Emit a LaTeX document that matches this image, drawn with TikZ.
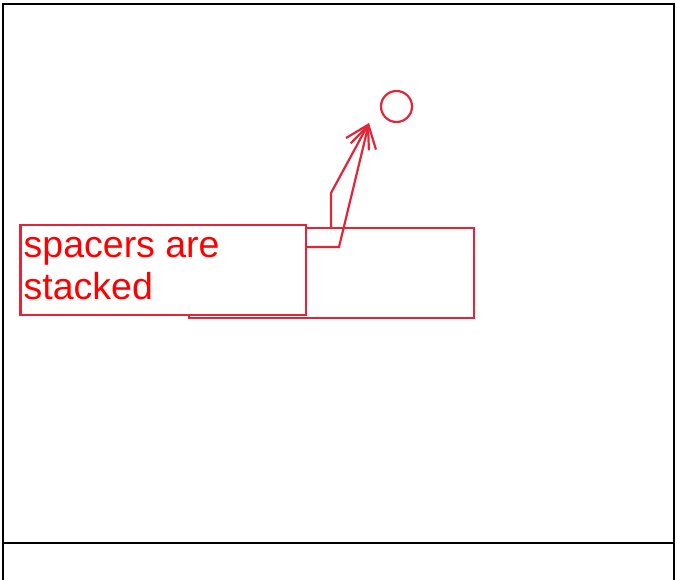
\documentclass[tikz,border=0pt]{standalone}
\usepackage{fontspec}
\setmainfont{Liberation Sans}
\usetikzlibrary{arrows.meta}
\definecolor{lred}{RGB}{226,38,56}
\definecolor{tred}{RGB}{255,0,0}
\begin{document}
\begin{tikzpicture}[x=1pt,y=1pt,
  redbox/.style={draw=lred, line width=2.2pt, rectangle, inner sep=0pt},
  conn/.style={draw=lred, line width=2.2pt, line join=miter,
    -{Straight Barb[length=22pt,width=26pt]}},
  frameline/.style={draw=black, line width=2pt}]
\useasboundingbox (0,0) rectangle (677,580);
% frame
\draw[frameline] (3,-10) -- (3,576) -- (674,576) -- (674,-10);
\draw[frameline] (3,37) -- (674,37);
% big box
\node[redbox, anchor=north west, minimum width=285pt, minimum height=90pt] (big) at (188,353) {};
% label box
\node[redbox, anchor=north west, fill=white, minimum width=285.5pt, minimum height=89.5pt] (lbl) at (19.3,355.7) {};
\node[anchor=base west, inner sep=0pt, text=tred, font=\fontsize{37.5}{42}\selectfont, align=left] (txt) at (23.5,322.3) {spacers are};
\node[anchor=base west, inner sep=0pt, text=tred, font=\fontsize{37.5}{42}\selectfont, align=left] (txt2) at (23.5,280) {stacked};
% circle
\node[draw=lred, line width=2.2pt, circle, minimum size=31pt, inner sep=0pt] (circ) at (396.5,473.5) {};
\coordinate (tip) at (369,457);
\coordinate (a1) at (lbl.east |- 0,333);
\coordinate (a2) at (339,333);
\coordinate (b1) at (331,353);
\coordinate (b2) at (331,387);
\draw[conn] (a1) -- (a2) -- (tip);
\draw[conn] (b1) -- (b2) -- (tip);
\end{tikzpicture}
\end{document}
